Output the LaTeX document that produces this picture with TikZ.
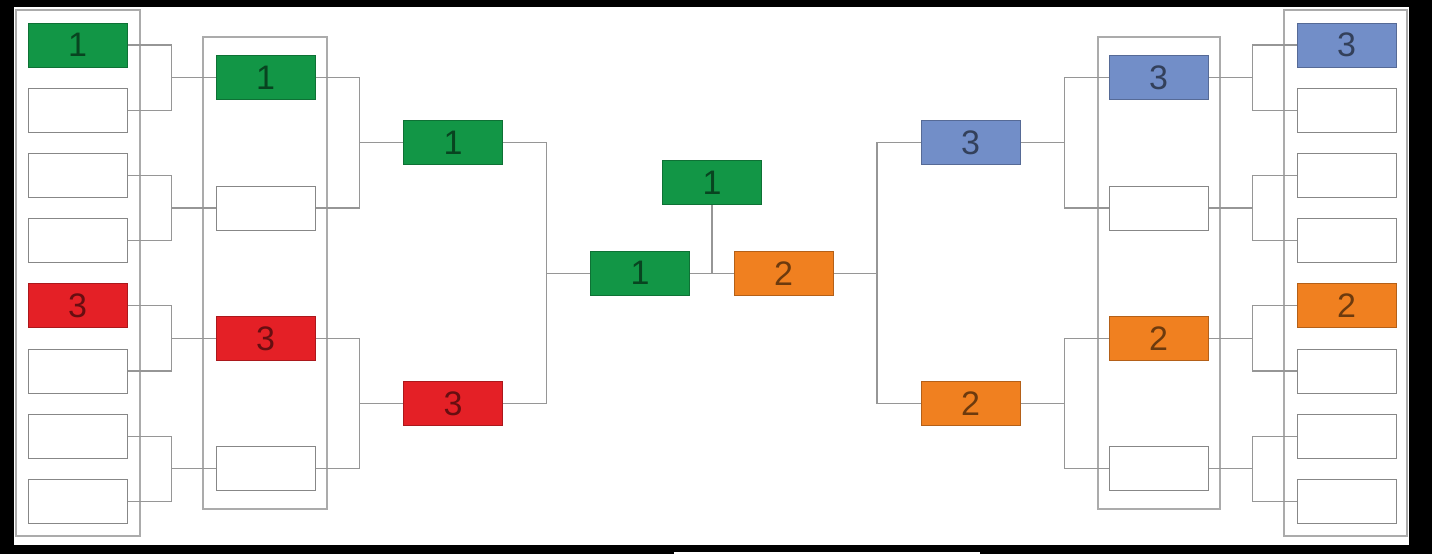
\documentclass[tikz,border=0pt]{standalone}
\usepackage{fontspec}
\setmainfont{Liberation Sans}
\usetikzlibrary{calc}
\definecolor{BrGreen}{RGB}{18,150,70}
\definecolor{BrRed}{RGB}{228,32,38}
\definecolor{BrBlue}{RGB}{114,142,200}
\definecolor{BrOrange}{RGB}{240,128,32}
\definecolor{BrGray}{RGB}{150,150,150}

\begin{document}
\begin{tikzpicture}[x=1pt, y=-1pt,
          slot/.style={rectangle, draw=BrGray!90!black, fill=white, line width=1pt,
                       minimum width=99pt, minimum height=44pt, inner sep=0pt,
                       font=\fontsize{34}{38}\selectfont},
          win/.style={slot, draw=#1!75!black, fill=#1, text=#1!45!black},
          frame/.style={draw=BrGray!80, line width=1.3pt},
          link/.style={draw=BrGray, line width=1.3pt}
        ]
        % black border round the sheet
        \fill[black] (0,0) rectangle (1432,554);
        \fill[white] (14,7) rectangle (1409,545);
        \fill[white] (674,552) rectangle (980,554);

        % column frames
        \draw[frame] (16,10) rectangle (140,536);
        \draw[frame] (203,37) rectangle (327,509);
        \draw[frame] (1098,37) rectangle (1220,509);
        \draw[frame] (1284,10) rectangle (1407,536);

        % left half
        \node[win=BrGreen] (o1) at (77.5,45) {1};
        \node[win=BrRed]   (o5) at (77.5,305.8) {3};
        \foreach \i in {2,3,4,6,7,8}
          \node[slot] (o\i) at (77.5,{45+65.2*(\i-1)}) {};
        \node[win=BrGreen] (m1) at (265.5,77.6) {1};
        \node[win=BrRed]   (m3) at (265.5,338.4) {3};
        \foreach \i in {2,4}
          \node[slot] (m\i) at (265.5,{77.6+130.4*(\i-1)}) {};
        \node[win=BrGreen] (s1) at (453,142.8) {1};
        \node[win=BrRed]   (s2) at (453,403.6) {3};

        % right half
        \node[win=BrBlue]   (p1) at (1346.5,45) {3};
        \node[win=BrOrange] (p5) at (1346.5,305.8) {2};
        \foreach \i in {2,3,4,6,7,8}
          \node[slot] (p\i) at (1346.5,{45+65.2*(\i-1)}) {};
        \node[win=BrBlue]   (n1) at (1158.5,77.6) {3};
        \node[win=BrOrange] (n3) at (1158.5,338.4) {2};
        \foreach \i in {2,4}
          \node[slot] (n\i) at (1158.5,{77.6+130.4*(\i-1)}) {};
        \node[win=BrBlue]   (t1) at (970.5,142.8) {3};
        \node[win=BrOrange] (t2) at (970.5,403.6) {2};

        % final
        \node[win=BrGreen]  (f1) at (640,273.2) {1};
        \node[win=BrOrange] (f2) at (783.5,273.2) {2};
        \node[win=BrGreen]  (champ) at (712,182.5) {1};

        % brackets, outer columns
        \foreach \k in {1,...,4} {
          \pgfmathtruncatemacro\a{2*\k-1}
          \pgfmathtruncatemacro\b{2*\k}
          \coordinate (oj\k) at ($(o\a.east)!.5!(m\k.west)$);
          \draw[link] (o\a.east) -| (oj\k) |- (o\b.east);
          \draw[link] (oj\k |- m\k.west) -- (m\k.west);
          \coordinate (pj\k) at ($(p\a.west)!.5!(n\k.east)$);
          \draw[link] (p\a.west) -| (pj\k) |- (p\b.west);
          \draw[link] (pj\k |- n\k.east) -- (n\k.east);
        }
        % brackets, second columns
        \foreach \k in {1,2} {
          \pgfmathtruncatemacro\a{2*\k-1}
          \pgfmathtruncatemacro\b{2*\k}
          \coordinate (mj\k) at ($(m\a.east)!.5!(s\k.west)$);
          \draw[link] (m\a.east) -| (mj\k) |- (m\b.east);
          \draw[link] (mj\k |- s\k.west) -- (s\k.west);
          \coordinate (nj\k) at ($(n\a.west)!.5!(t\k.east)$);
          \draw[link] (n\a.west) -| (nj\k) |- (n\b.west);
          \draw[link] (nj\k |- t\k.east) -- (t\k.east);
        }
        % brackets into the final
        \coordinate (sj) at ($(s1.east)!.5!(f1.west)$);
        \draw[link] (s1.east) -| (sj) |- (s2.east);
        \draw[link] (sj |- f1.west) -- (f1.west);
        \coordinate (tj) at ($(t1.west)!.5!(f2.east)$);
        \draw[link] (t1.west) -| (tj) |- (t2.west);
        \draw[link] (tj |- f2.east) -- (f2.east);
        \draw[link] (f1.east) -- (f2.west);
        \draw[link] (champ.south) -- (champ.south |- f1.east);
      \end{tikzpicture}
\end{document}
